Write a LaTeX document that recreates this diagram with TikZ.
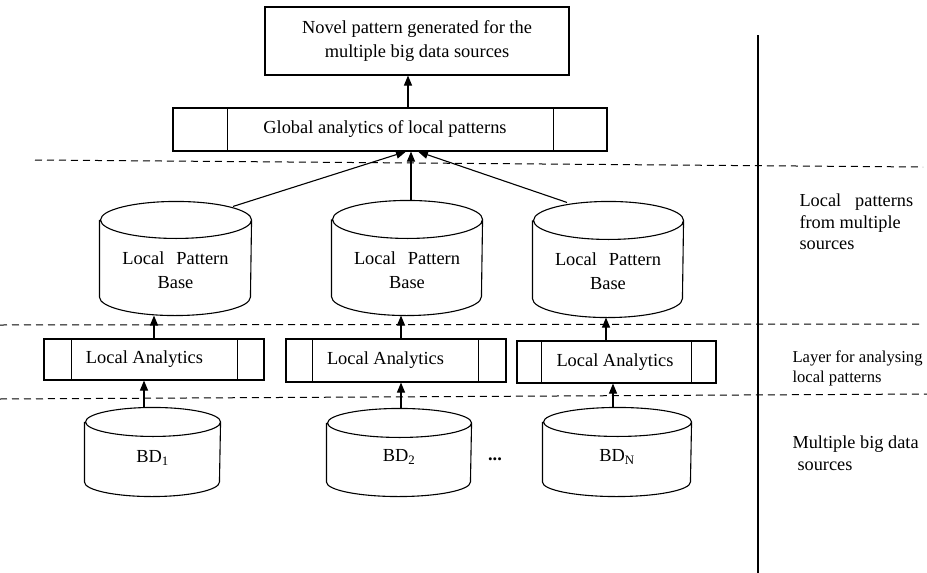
\documentclass[tikz,border=0pt]{standalone}
\usepackage{fontspec}
\setmainfont{Liberation Serif}
\usetikzlibrary{arrows.meta,calc}
\newcommand\drawcyl[3]{%
  \draw[cylline] ([yshift=-#3]#1.north west) -- ([yshift=#3]#1.south west)
    arc[start angle=180,end angle=360,x radius=#2,y radius=#3]
    -- ([yshift=-#3]#1.north east)
    arc[start angle=0,end angle=360,x radius=#2,y radius=#3];}
\begin{document}
\begin{tikzpicture}[x=1pt,y=-1pt,
  line width=1.1pt,
  boxn/.style={draw, line width=1.1pt, inner sep=0pt},
  cylbody/.style={inner sep=0pt, draw=none},
  cylline/.style={line width=1.1pt},
  txt/.style={inner sep=0pt, align=center, font=\fontsize{18.4}{24}\selectfont},
  sidetxt/.style={inner sep=0pt, align=left, anchor=west, font=\fontsize{18.3}{21.5}\selectfont},
  arr/.style={-{Triangle[length=10pt,width=8pt]}, line width=1.1pt},
  sepline/.style={dashed, dash pattern=on 7pt off 5pt, line width=1pt}
]
\useasboundingbox (0,0) rectangle (927,573);

% dashed layer separators
\draw[sepline] (35,160) -- (923,167);
\draw[sepline] (0,325) -- (922,324);
\draw[sepline] (0,399) -- (927,394);

% right vertical line
\draw (758,35) -- (758,573);

% top box
\node[boxn, minimum width=304pt, minimum height=68pt] (top) at (417,41) {};
\node[txt] (topt) at (417,41) {Novel pattern generated for the\\multiple big data sources};

% global analytics box
\node[boxn, minimum width=434pt, minimum height=43pt] (glob) at (390,129.5) {};
\draw ([xshift=55pt]glob.north west) -- ([xshift=55pt]glob.south west);
\draw ([xshift=-54pt]glob.north east) -- ([xshift=-54pt]glob.south east);
\node[txt] (globt) at (385,129) {Global analytics of local patterns};

% local pattern base cylinders
\node[cylbody, minimum width=151pt, minimum height=113pt] (lpb1) at (175.5,258.5) {};
\drawcyl{lpb1}{75.5pt}{18.5pt}
\node[txt] (lpb1t) at (175.5,270.5) {Local\hspace{12pt}Pattern\\Base};

\node[cylbody, minimum width=150pt, minimum height=114pt] (lpb2) at (407,258) {};
\drawcyl{lpb2}{75pt}{19pt}
\node[txt] (lpb2t) at (407,270) {Local\hspace{12pt}Pattern\\Base};

\node[cylbody, minimum width=150pt, minimum height=115pt] (lpb3) at (608,259.5) {};
\drawcyl{lpb3}{75pt}{19pt}
\node[txt] (lpb3t) at (608,271.5) {Local\hspace{12pt}Pattern\\Base};

% local analytics boxes
\node[boxn, minimum width=220pt, minimum height=41pt] (la1) at (154,359.5) {};
\draw ([xshift=28pt]la1.north west) -- ([xshift=28pt]la1.south west);
\draw ([xshift=-27pt]la1.north east) -- ([xshift=-27pt]la1.south east);
\node[txt] (la1t) at (144.5,359) {Local Analytics};

\node[boxn, minimum width=220pt, minimum height=43pt] (la2) at (396,360.5) {};
\draw ([xshift=27pt]la2.north west) -- ([xshift=27pt]la2.south west);
\draw ([xshift=-28pt]la2.north east) -- ([xshift=-28pt]la2.south east);
\node[txt] (la2t) at (385.5,360) {Local Analytics};

\node[boxn, minimum width=199pt, minimum height=42pt] (la3) at (616.5,362) {};
\draw ([xshift=25pt]la3.north west) -- ([xshift=25pt]la3.south west);
\draw ([xshift=-25pt]la3.north east) -- ([xshift=-25pt]la3.south east);
\node[txt] (la3t) at (615,362) {Local Analytics};

% big data cylinders
\node[cylbody, minimum width=135pt, minimum height=88pt] (bd1) at (152.5,452) {};
\drawcyl{bd1}{67.5pt}{14.5pt}
\node[txt] (bd1t) at (152.5,458) {BD\textsubscript{1}};

\node[cylbody, minimum width=144pt, minimum height=87pt] (bd2) at (399,452.5) {};
\drawcyl{bd2}{72pt}{14.5pt}
\node[txt] (bd2t) at (399,457) {BD\textsubscript{2}};

\node[cylbody, minimum width=148pt, minimum height=88pt] (bd3) at (617,452) {};
\drawcyl{bd3}{74pt}{14.5pt}
\node[txt] (bd3t) at (617,457) {BD\textsubscript{N}};

\node[txt] (dots) at (495,459) {\textbf{...}};

% arrows
\draw[arr] ([xshift=18pt]glob.north) -- ([xshift=-9pt]top.south);
\draw[arr] ([xshift=57.5pt,yshift=-5pt]lpb1.north) -- ([xshift=16pt]glob.south);
\draw[arr] ([xshift=4pt]lpb2.north) -- ([xshift=21pt]glob.south);
\draw[arr] ([xshift=-41pt,yshift=-1pt]lpb3.north) -- ([xshift=28pt]glob.south);

\draw[arr] (la1.north) -- (la1.north |- lpb1.south);
\draw[arr] ([xshift=5pt]la2.north) -- ([xshift=5pt]la2.north |- lpb2.south);
\draw[arr] ([xshift=-10.5pt]la3.north) -- ([xshift=-10.5pt]la3.north |- lpb3.south);

\draw[arr] ([xshift=-8.5pt]bd1.north) -- ([xshift=-8.5pt]bd1.north |- la1.south);
\draw[arr] ([xshift=2pt]bd2.north) -- ([xshift=2pt]bd2.north |- la2.south);
\draw[arr] ([xshift=-4pt]bd3.north) -- ([xshift=-4pt]bd3.north |- la3.south);

% right-hand labels
\node[sidetxt] (lbl1) at (799,222) {Local\hspace{14pt}patterns\\from multiple\\sources};
\node[sidetxt, font=\fontsize{16.6}{19.5}\selectfont] (lbl2) at (792,368.5) {Layer for analysing\\local patterns};
\node[sidetxt] (lbl3) at (792,453) {Multiple big data\\\hspace{5pt}sources};
\end{tikzpicture}
\end{document}
